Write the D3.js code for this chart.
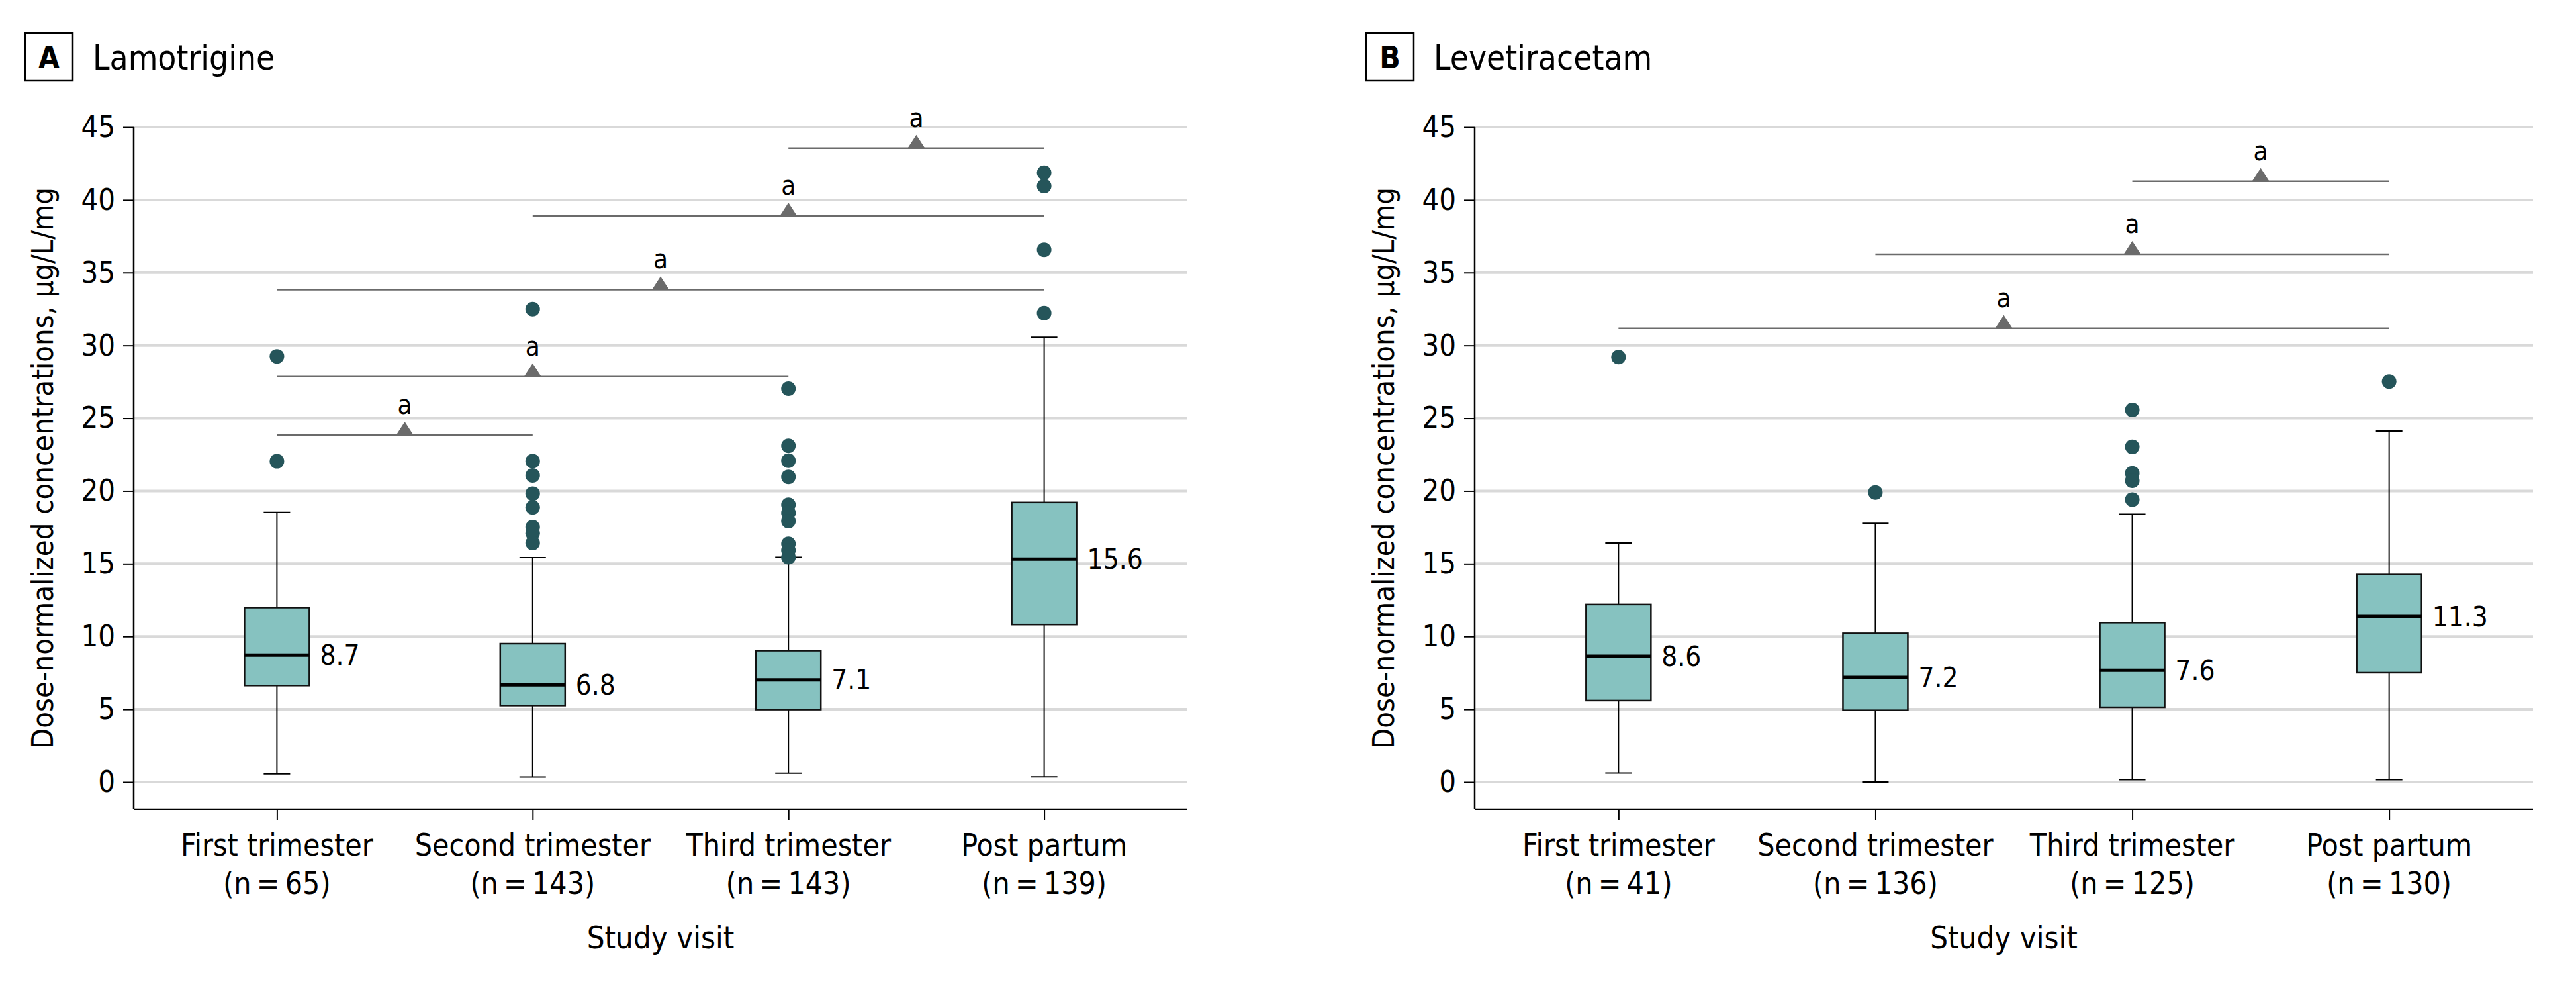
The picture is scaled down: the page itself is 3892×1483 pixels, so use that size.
<!DOCTYPE html>
<html>
<meta charset="utf-8">
<head>
<script src="https://cdnjs.cloudflare.com/ajax/libs/d3/7.8.5/d3.min.js"></script>
<style>
  body { margin: 0; background: #fff; }
  text { font-family: 'Liberation Sans Narrow', 'Arial Narrow', 'DejaVu Sans Condensed', sans-serif; font-stretch: condensed; }
</style>
</head>
<body>
<script>
// study visits (x categories)
const categories = ["First trimester", "Second trimester", "Third trimester", "Post partum"];
const yTicks = [0, 5, 10, 15, 20, 25, 30, 35, 40, 45];

// A: lamotrigine
const lamoN = [65, 143, 143, 139];
const lamoLow = [0.56, 0.34, 0.6, 0.35];
const lamoQ1 = [6.63, 5.26, 4.98, 10.82];
const lamoMedian = [8.73, 6.68, 7.02, 15.32];
const lamoQ3 = [11.99, 9.51, 9.03, 19.21];
const lamoHigh = [18.53, 15.43, 15.45, 30.57];
const lamoLabels = ["8.7", "6.8", "7.1", "15.6"];
const lamoOutliers = [
  [29.25, 22.04],
  [32.5, 22.05, 21.07, 19.82, 18.87, 17.52, 17.1, 16.43],
  [27.03, 23.1, 22.08, 20.97, 19.05, 18.5, 17.93, 16.37, 15.92, 15.45],
  [41.87, 40.95, 36.57, 32.23]
];
// significant pairs: [from, to, y]
const lamoPairs = [[0, 1, 23.84], [0, 2, 27.86], [0, 3, 33.83], [1, 3, 38.9], [2, 3, 43.56]];

// B: levetiracetam
const leveN = [41, 136, 125, 130];
const leveLow = [0.61, 0, 0.16, 0.16];
const leveQ1 = [5.6, 4.93, 5.14, 7.51];
const leveMedian = [8.65, 7.19, 7.68, 11.37];
const leveQ3 = [12.2, 10.22, 10.95, 14.26];
const leveHigh = [16.42, 17.78, 18.4, 24.11];
const leveLabels = ["8.6", "7.2", "7.6", "11.3"];
const leveOutliers = [
  [29.2],
  [19.9],
  [25.57, 23.03, 21.22, 20.7, 19.41],
  [27.52]
];
const levePairs = [[0, 3, 31.18], [1, 3, 36.26], [2, 3, 41.28]];

const W = 3892, H = 1483;
const yTop = 192, yBottom = 1181, axisY = 1222;

const svg = d3.select("body").append("svg")
  .attr("width", W).attr("height", H)
  .style("display", "block");

const y = d3.scaleLinear().domain([0, 45]).range([yBottom, yTop]);

function drawPanel(letter, name, x0, x1, n, low, q1, med, q3, high, labels, outliers, pairs) {
  const g = svg.append("g");
  const x = d3.scalePoint().domain(categories).range([x0, x1]).padding(0.56);
  const boxW = 98, capW = 40;

  // title
  g.append("rect").attr("x", x0 - 164).attr("y", 50).attr("width", 72).attr("height", 72)
    .attr("fill", "none").attr("stroke", "#000").attr("stroke-width", 2.5);
  g.append("text").attr("x", x0 - 128).attr("y", 103).attr("text-anchor", "middle")
    .attr("font-size", 46).attr("font-weight", "bold").text(letter);
  g.append("text").attr("x", x0 - 62).attr("y", 105).attr("font-size", 51).text(name);

  // grid
  g.append("g").selectAll("line").data(yTicks).join("line")
    .attr("x1", x0).attr("x2", x1)
    .attr("y1", d => y(d)).attr("y2", d => y(d))
    .attr("stroke", "#d9d9d9").attr("stroke-width", 4);

  // y axis
  const ya = g.append("g").attr("transform", `translate(${x0},0)`)
    .call(d3.axisLeft(y).tickValues(yTicks).tickSize(16).tickPadding(12));
  ya.select(".domain").remove();
  ya.selectAll(".tick line").attr("stroke", "#000").attr("stroke-width", 2);
  ya.selectAll(".tick text").attr("font-size", 45).attr("fill", "#000")
    .style("font-family", null);
  g.append("line").attr("x1", x0).attr("x2", x0).attr("y1", yTop).attr("y2", axisY)
    .attr("stroke", "#000").attr("stroke-width", 2.5);

  // x axis
  const xa = g.append("g").attr("transform", `translate(0,${axisY})`)
    .call(d3.axisBottom(x).tickSize(16).tickFormat(""));
  xa.select(".domain").remove();
  xa.selectAll(".tick line").attr("stroke", "#000").attr("stroke-width", 2);
  g.append("line").attr("x1", x0).attr("x2", x1).attr("y1", axisY).attr("y2", axisY)
    .attr("stroke", "#000").attr("stroke-width", 2.5);

  const lab = g.append("g").selectAll("g").data(categories).join("g")
    .attr("transform", d => `translate(${x(d)},0)`);
  lab.append("text").attr("y", 1292).attr("text-anchor", "middle").attr("font-size", 46).text(d => d);
  lab.append("text").attr("y", 1350).attr("text-anchor", "middle").attr("font-size", 46)
    .text((d, i) => `(n\u2009=\u2009${n[i]})`);

  g.append("text").attr("x", (x0 + x1) / 2).attr("y", 1432).attr("text-anchor", "middle")
    .attr("font-size", 47).text("Study visit");
  g.append("text").attr("transform", `translate(${x0 - 122},${(yTop + axisY) / 2}) rotate(-90)`)
    .attr("text-anchor", "middle").attr("font-size", 45)
    .text("Dose-normalized concentrations, µg/L/mg");

  // comparison brackets
  const br = g.append("g").selectAll("g").data(pairs).join("g");
  br.append("line")
    .attr("x1", d => x(categories[d[0]])).attr("x2", d => x(categories[d[1]]))
    .attr("y1", d => y(d[2])).attr("y2", d => y(d[2]))
    .attr("stroke", "#6b6b6b").attr("stroke-width", 2.5);
  br.append("path")
    .attr("d", d => {
      const cx = (x(categories[d[0]]) + x(categories[d[1]])) / 2, cy = y(d[2]);
      return `M${cx - 13},${cy}L${cx + 13},${cy}L${cx},${cy - 20}Z`;
    })
    .attr("fill", "#6b6b6b");
  br.append("text")
    .attr("x", d => (x(categories[d[0]]) + x(categories[d[1]])) / 2)
    .attr("y", d => y(d[2]) - 32)
    .attr("text-anchor", "middle").attr("font-size", 40).text("a");

  // boxes
  const b = g.append("g").selectAll("g").data(categories).join("g")
    .attr("transform", d => `translate(${x(d)},0)`);
  b.append("line").attr("y1", (d, i) => y(low[i])).attr("y2", (d, i) => y(high[i]))
    .attr("stroke", "#000").attr("stroke-width", 2);
  b.append("line").attr("x1", -capW / 2).attr("x2", capW / 2)
    .attr("y1", (d, i) => y(low[i])).attr("y2", (d, i) => y(low[i]))
    .attr("stroke", "#000").attr("stroke-width", 2);
  b.append("line").attr("x1", -capW / 2).attr("x2", capW / 2)
    .attr("y1", (d, i) => y(high[i])).attr("y2", (d, i) => y(high[i]))
    .attr("stroke", "#000").attr("stroke-width", 2);
  b.append("rect").attr("x", -boxW / 2).attr("width", boxW)
    .attr("y", (d, i) => y(q3[i])).attr("height", (d, i) => y(q1[i]) - y(q3[i]))
    .attr("fill", "#86c2c0").attr("stroke", "#111").attr("stroke-width", 2.5);
  b.append("line").attr("x1", -boxW / 2).attr("x2", boxW / 2)
    .attr("y1", (d, i) => y(med[i])).attr("y2", (d, i) => y(med[i]))
    .attr("stroke", "#000").attr("stroke-width", 5);
  b.append("text").attr("x", boxW / 2 + 16).attr("y", (d, i) => y(med[i]))
    .attr("dy", "0.35em").attr("font-size", 42).text((d, i) => labels[i]);
  b.selectAll("circle").data((d, i) => outliers[i]).join("circle")
    .attr("cy", v => y(v)).attr("r", 11).attr("fill", "#25555a");
}

drawPanel("A", "Lamotrigine", 202, 1794, lamoN, lamoLow, lamoQ1, lamoMedian, lamoQ3, lamoHigh, lamoLabels, lamoOutliers, lamoPairs);
drawPanel("B", "Levetiracetam", 2228, 3827, leveN, leveLow, leveQ1, leveMedian, leveQ3, leveHigh, leveLabels, leveOutliers, levePairs);
</script>
</body>
</html>
